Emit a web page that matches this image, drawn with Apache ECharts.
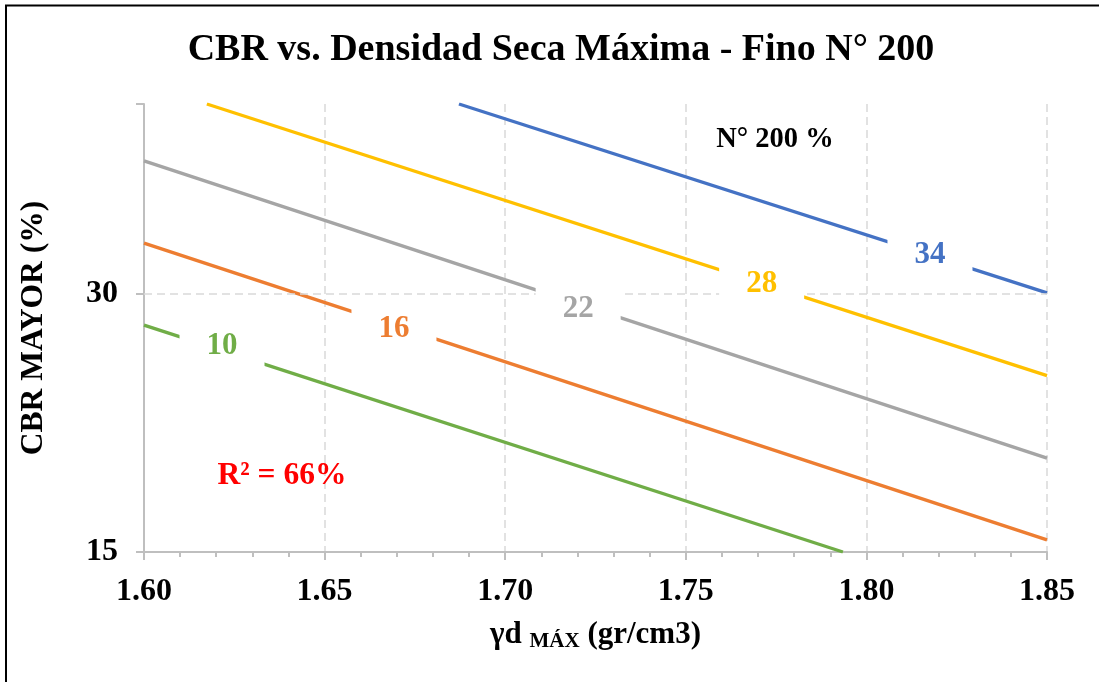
<!DOCTYPE html>
<html>
<head>
<meta charset="utf-8">
<title>CBR vs. Densidad Seca Máxima</title>
<script src="https://cdn.jsdelivr.net/npm/echarts@6/dist/echarts.min.js"></script>
<style>
  html, body { margin: 0; padding: 0; background: #fff; }
  #chart { width: 1099px; height: 682px; }
</style>
</head>
<body>
<div id="chart"></div>
<script>
// Contour lines of CBR (%) against maximum dry density, one per fines (N° 200) content.
const finesLevels = ['10', '16', '22', '28', '34'];

// [γd máx (gr/cm3), CBR (%)] end points of each contour
const line10 = [[1.600, 27.6], [1.7935, 15.0]];
const line16 = [[1.600, 34.4], [1.850, 15.5]];
const line22 = [[1.600, 42.9], [1.850, 19.3]];
const line28 = [[1.6174, 50.0], [1.850, 24.1]];
const line34 = [[1.6872, 50.0], [1.850, 30.1]];

// where each contour carries its fines label
const labelX = [1.6216, 1.6692, 1.7202, 1.7710, 1.8176];
const labelY = [26.1, 27.3, 28.8, 30.8, 33.3];

// axis ticks
const xMin = 1.60, xMax = 1.85, xStep = 0.05;
const yMin = 15, yMax = 50;
const yTickLabels = [15, 30];
const yTickMarks = [15, 30, 50];
const yGridValues = [30];

const rSquared = '66%';

const colors = ['#70AD47', '#ED7D31', '#A5A5A5', '#FFC000', '#4472C4'];
const contourData = [line10, line16, line22, line28, line34];
const serif = '"Liberation Serif", "Times New Roman", serif';
const axisGray = '#BFBFBF';
const gridGray = '#D9D9D9';

const chart = echarts.init(document.getElementById('chart'));

const series = [];

// dashed horizontal gridline(s) of the log axis
series.push({
  type: 'line',
  data: [],
  z: 1,
  silent: true,
  markLine: {
    silent: true,
    symbol: 'none',
    label: { show: false },
    lineStyle: { color: gridGray, type: [8, 5], width: 1.5 },
    data: yGridValues.map(v => ({ yAxis: v }))
  }
});

contourData.forEach((d, i) => {
  series.push({
    name: finesLevels[i],
    type: 'line',
    data: d,
    z: 2,
    showSymbol: false,
    symbol: 'none',
    silent: true,
    lineStyle: { color: colors[i], width: 3.4 },
    itemStyle: { color: colors[i] },
    emphasis: { disabled: true }
  });
});

// fines labels sit on white boxes that interrupt their contour
series.push({
  type: 'scatter',
  z: 5,
  silent: true,
  symbolSize: 0,
  itemStyle: { color: '#fff', opacity: 1 },
  emphasis: { disabled: true },
  data: finesLevels.map((t, i) => ({
    name: t,
    value: [labelX[i], labelY[i]],
    label: { color: colors[i] }
  })),
  label: {
    show: true,
    position: 'inside',
    opacity: 1,
    formatter: p => p.name,
    fontFamily: serif,
    fontWeight: 'bold',
    fontSize: 31,
    lineHeight: 28,
    backgroundColor: '#fff',
    padding: [10, 27]
  }
});

chart.setOption({
  animation: false,
  backgroundColor: '#fff',
  title: {
    text: 'CBR vs. Densidad Seca Máxima - Fino N° 200',
    left: 556,
    textAlign: 'center',
    top: 26,
    textStyle: { fontFamily: serif, fontWeight: 'bold', fontSize: 38, color: '#000' }
  },
  grid: { left: 144, right: 52, top: 104, bottom: 130 },
  xAxis: {
    type: 'value',
    min: xMin,
    max: xMax,
    interval: xStep,
    name: '{a|γd }{s|MÁX}{a| (gr/cm3)}',
    nameLocation: 'middle',
    nameGap: 66,
    nameTextStyle: {
      rich: {
        a: { fontFamily: serif, fontWeight: 'bold', fontSize: 31, color: '#000', lineHeight: 34 },
        s: { fontFamily: serif, fontWeight: 'bold', fontSize: 21, color: '#000', lineHeight: 34, padding: [14, 0, 0, 0] }
      }
    },
    axisLine: { show: true, lineStyle: { color: axisGray, width: 2 } },
    axisTick: { show: true, length: 8, lineStyle: { color: axisGray, width: 2 } },
    minorTick: { show: true, splitNumber: 5, length: 5, lineStyle: { color: axisGray, width: 2 } },
    splitLine: { show: true, lineStyle: { color: gridGray, type: [8, 5], width: 1.5 } },
    axisLabel: {
      margin: 24,
      formatter: v => v.toFixed(2),
      fontFamily: serif, fontWeight: 'bold', fontSize: 32, color: '#000'
    }
  },
  yAxis: {
    type: 'log',
    logBase: 2,
    min: yMin,
    max: yMax,
    name: 'CBR MAYOR (%)',
    nameLocation: 'middle',
    nameRotate: 90,
    nameGap: 94,
    nameTextStyle: { fontFamily: serif, fontWeight: 'bold', fontSize: 31.5, color: '#000' },
    axisLine: { show: true, lineStyle: { color: axisGray, width: 2 } },
    axisTick: { show: true, length: 8, customValues: yTickMarks, lineStyle: { color: axisGray, width: 2 } },
    minorTick: { show: false },
    splitLine: { show: false },
    axisLabel: {
      customValues: yTickLabels,
      margin: 26,
      formatter: v => String(Math.round(v)),
      fontFamily: serif, fontWeight: 'bold', fontSize: 32, color: '#000'
    }
  },
  graphic: [
    { type: 'line', shape: { x1: 5, y1: 5.5, x2: 1099, y2: 5.5 }, style: { stroke: '#000', lineWidth: 2 } },
    { type: 'line', shape: { x1: 6, y1: 5, x2: 6, y2: 682 }, style: { stroke: '#000', lineWidth: 2 } },
    {
      type: 'text', x: 775, y: 140, z: 10,
      style: { text: 'N° 200 %', fontFamily: serif, fontWeight: 'bold', fontSize: 28.5, fill: '#000', align: 'center', verticalAlign: 'middle' }
    },
    {
      type: 'text', x: 282, y: 476, z: 10,
      style: { text: 'R² = ' + rSquared, fontFamily: serif, fontWeight: 'bold', fontSize: 31.5, fill: '#FF0000', align: 'center', verticalAlign: 'middle' }
    }
  ],
  series: series
});
</script>
</body>
</html>
